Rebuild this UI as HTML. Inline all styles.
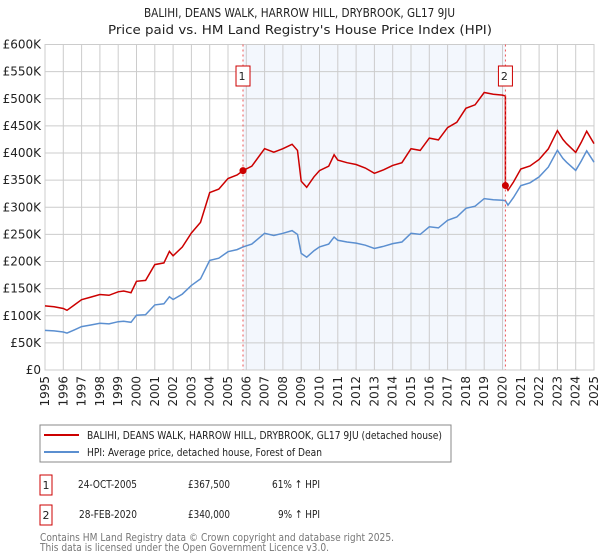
<!DOCTYPE html>
<html><head><meta charset="utf-8"><style>
body{margin:0;background:#fff;font-family:"DejaVu Sans","Liberation Sans",sans-serif;}
#wrap{position:relative;width:600px;height:560px;overflow:hidden}
</style></head><body><div id="wrap">
<svg id="svg" width="600" height="560" xmlns="http://www.w3.org/2000/svg" font-family="DejaVu Sans, Liberation Sans, sans-serif">
<text x="144" y="17" font-size="12" fill="#222" textLength="311" lengthAdjust="spacingAndGlyphs">BALIHI, DEANS WALK, HARROW HILL, DRYBROOK, GL17 9JU</text>
<text x="108" y="34" font-size="12" fill="#222" textLength="384" lengthAdjust="spacingAndGlyphs">Price paid vs. HM Land Registry's House Price Index (HPI)</text>
<g id="plot"></g>
<rect x="40" y="425" width="411" height="37" fill="#fff" stroke="#888"/>
<line x1="44" y1="435" x2="79" y2="435" stroke="#cc0000" stroke-width="2"/>
<text x="87" y="439" font-size="11" fill="#222" textLength="355" lengthAdjust="spacingAndGlyphs">BALIHI, DEANS WALK, HARROW HILL, DRYBROOK, GL17 9JU (detached house)</text>
<line x1="44" y1="452" x2="79" y2="452" stroke="#5b8fd0" stroke-width="2"/>
<text x="87" y="456" font-size="11" fill="#222" textLength="235" lengthAdjust="spacingAndGlyphs">HPI: Average price, detached house, Forest of Dean</text>
<g>
<rect x="40" y="475" width="12" height="20" fill="#fff" stroke="#cc0000"/>
<text x="46" y="489" text-anchor="middle" font-size="11" fill="#222">1</text>
<text x="78" y="488" font-size="11" fill="#222" textLength="59" lengthAdjust="spacingAndGlyphs">24-OCT-2005</text>
<text x="188" y="488" font-size="11" fill="#222" textLength="42" lengthAdjust="spacingAndGlyphs">£367,500</text>
<text x="272" y="488" font-size="11" fill="#222" textLength="48" lengthAdjust="spacingAndGlyphs">61% ↑ HPI</text></g>
<g>
<rect x="40" y="505" width="12" height="20" fill="#fff" stroke="#cc0000"/>
<text x="46" y="519" text-anchor="middle" font-size="11" fill="#222">2</text>
<text x="79" y="518" font-size="11" fill="#222" textLength="58" lengthAdjust="spacingAndGlyphs">28-FEB-2020</text>
<text x="188" y="518" font-size="11" fill="#222" textLength="42" lengthAdjust="spacingAndGlyphs">£340,000</text>
<text x="278" y="518" font-size="11" fill="#222" textLength="42" lengthAdjust="spacingAndGlyphs">9% ↑ HPI</text></g>
<text x="40" y="541" font-size="11" fill="#777" textLength="354" lengthAdjust="spacingAndGlyphs">Contains HM Land Registry data © Crown copyright and database right 2025.</text>
<text x="40" y="551" font-size="11" fill="#777" textLength="289" lengthAdjust="spacingAndGlyphs">This data is licensed under the Open Government Licence v3.0.</text>
</svg></div>
<script>
const hpiYears=[1995,1995.5,1996,1996.2,1996.6,1997,1997.5,1998,1998.5,1999,1999.3,1999.7,2000,2000.5,2001,2001.5,2001.8,2002,2002.5,2003,2003.5,2004,2004.5,2005,2005.5,2005.82,2006.3,2007,2007.5,2008,2008.5,2008.8,2009,2009.3,2009.7,2010,2010.5,2010.8,2011,2011.5,2012,2012.5,2013,2013.5,2014,2014.5,2015,2015.5,2016,2016.5,2017,2017.5,2018,2018.5,2019,2019.5,2020,2020.16,2020.3,2020.6,2021,2021.5,2022,2022.5,2023,2023.3,2023.5,2024,2024.3,2024.6,2025];
const hpiValues=[73,72,70,68,74,80,83,86,85,89,90,88,101,102,120,122,135,130,140,156,168,202,206,218,222,227,232,252,248,252,257,250,215,208,220,227,232,245,239,236,234,230,224,228,233,236,252,250,264,262,276,282,298,302,316,314,313,312,304,318,340,345,356,374,405,390,383,368,385,404,383];
const saleYears=[2005.82,2020.16];
const salePrices=[367.5,340];
const yTicks=[0,50,100,150,200,250,300,350,400,450,500,550,600];
const xTicks=[1995,1996,1997,1998,1999,2000,2001,2002,2003,2004,2005,2006,2007,2008,2009,2010,2011,2012,2013,2014,2015,2016,2017,2018,2019,2020,2021,2022,2023,2024,2025];
const X0=45,X1=594,Y0=370,Y1=44.5;
const xs=y=>X0+(y-1995)/30*(X1-X0);
const ys=v=>Y0-v/600*(Y0-Y1);
const NS="http://www.w3.org/2000/svg";
const g=document.getElementById('plot');
function mk(t,a,p){const e=document.createElementNS(NS,t);for(const k in a)e.setAttribute(k,a[k]);(p||g).appendChild(e);return e;}
const shade=mk('rect',{x:xs(saleYears[0]),y:Y1,width:xs(saleYears[1])-xs(saleYears[0]),height:Y0-Y1,fill:'#eef3fc',opacity:0.7});


yTicks.forEach(v=>{
 const l=mk('line',{x1:X0,x2:X1,y1:ys(v),y2:ys(v),stroke:'#cccccc'});
 
 
 const t=mk('text',{x:X0-4,y:ys(v)+4,'text-anchor':'end','font-size':12,fill:'#222'});
 
 
 t.textContent=v===0?'£0':'£'+v+'K';
});
xTicks.forEach(yr=>{
 const l=mk('line',{x1:xs(yr),x2:xs(yr),y1:Y1,y2:Y0,stroke:'#cccccc'});
 
 
 const t=mk('text',{x:0,y:0,'text-anchor':'end','font-size':12,fill:'#222',transform:`translate(${xs(yr)+4},376) rotate(-90)`});
 
 
 t.textContent=yr;
});
const fr=mk('rect',{x:X0,y:Y1,width:X1-X0,height:Y0-Y1,fill:'none',stroke:'#cccccc'});


function hpiAt(y){for(let i=1;i<hpiYears.length;i++){if(y<=hpiYears[i]){const f=(y-hpiYears[i-1])/(hpiYears[i]-hpiYears[i-1]);return hpiValues[i-1]+f*(hpiValues[i]-hpiValues[i-1]);}}return hpiValues[hpiValues.length-1];}
const r1=salePrices[0]/hpiAt(saleYears[0]),r2=salePrices[1]/hpiAt(saleYears[1]);
let bp='',rp='';
hpiYears.forEach((y,i)=>{
 bp+=(i?'L':'M')+xs(y).toFixed(1)+','+ys(hpiValues[i]).toFixed(1);
 if(y<=saleYears[1]) rp+=(i?'L':'M')+xs(y).toFixed(1)+','+ys(hpiValues[i]*r1).toFixed(1);
});
rp+='L'+xs(saleYears[1]).toFixed(1)+','+ys(salePrices[1]).toFixed(1);
hpiYears.forEach((y,i)=>{if(y>saleYears[1])rp+='L'+xs(y).toFixed(1)+','+ys(hpiValues[i]*r2).toFixed(1);});
const bl=mk('path',{d:bp,fill:'none',stroke:'#5b8fd0','stroke-width':1.5});


const rl=mk('path',{d:rp,fill:'none',stroke:'#cc0000','stroke-width':1.5});


saleYears.forEach((y,i)=>{
 const vl=mk('line',{x1:xs(y),x2:xs(y),y1:Y1,y2:Y0,stroke:'#ee5555','stroke-dasharray':'2,3'});
 
 
 const c=mk('circle',{cx:xs(y),cy:ys(salePrices[i]),r:3.5,fill:'#cc0000'});
 
 
 const b=mk('rect',{x:xs(y)-7,y:66,width:14,height:20,fill:'#fff',stroke:'#cc0000'});
 
 
 const t=mk('text',{x:xs(y)-1,y:80,'text-anchor':'middle','font-size':11,fill:'#222'});
 
 
 t.textContent=String(i+1);
});
</script></body></html>
